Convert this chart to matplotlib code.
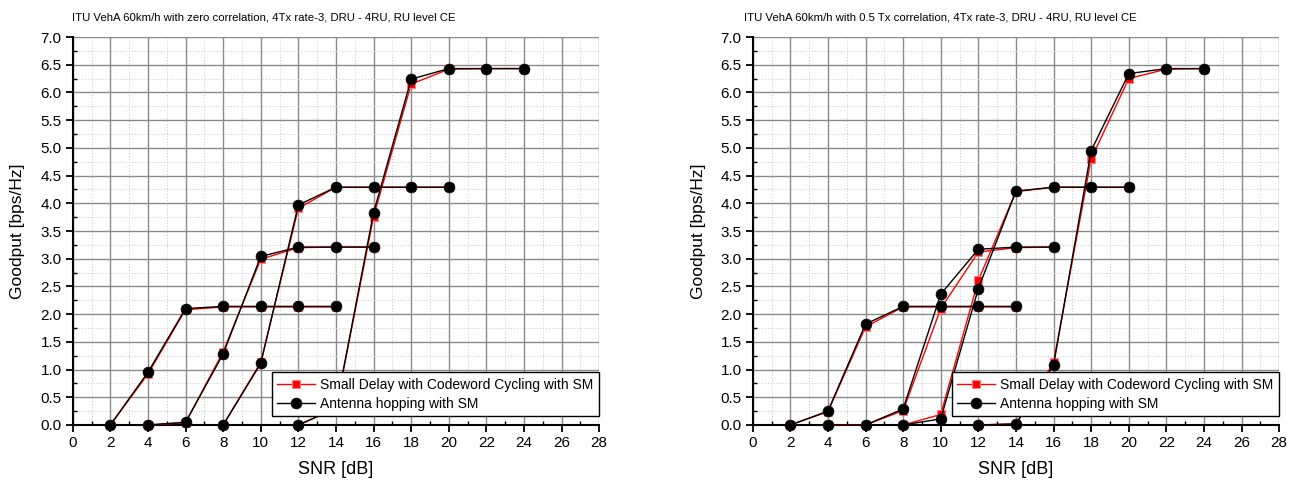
import matplotlib
matplotlib.use("Agg")
import matplotlib.pyplot as plt
from matplotlib.ticker import MultipleLocator, FormatStrFormatter

plt.rcParams['font.family'] = ['Liberation Sans', 'DejaVu Sans']

# ---------------- data ----------------
titles = ["ITU VehA 60km/h with zero correlation, 4Tx rate-3, DRU - 4RU, RU level CE",
          "ITU VehA 60km/h with 0.5 Tx correlation, 4Tx rate-3, DRU - 4RU, RU level CE"]
series_names = ["Small Delay with Codeword Cycling with SM", "Antenna hopping with SM"]
xlabel = "SNR [dB]"
ylabel = "Goodput [bps/Hz]"

snr_a = [2, 4, 6, 8, 10, 12, 14]
snr_b = [4, 6, 8, 10, 12, 14, 16]
snr_c = [8, 10, 12, 14, 16, 18, 20]
snr_d = [12, 14, 16, 18, 20, 22, 24]

# left panel (zero correlation)
l_sd_a = [0.0, 0.92, 2.08, 2.13, 2.13, 2.13, 2.13]
l_ah_a = [0.0, 0.95, 2.10, 2.14, 2.14, 2.14, 2.14]
l_sd_b = [0.0, 0.04, 1.32, 2.99, 3.20, 3.21, 3.21]
l_ah_b = [0.0, 0.05, 1.28, 3.04, 3.21, 3.21, 3.21]
l_sd_c = [0.0, 1.13, 3.91, 4.29, 4.29, 4.29, 4.29]
l_ah_c = [0.0, 1.11, 3.97, 4.29, 4.29, 4.29, 4.29]
l_sd_d = [0.0, 0.30, 3.76, 6.15, 6.42, 6.43, 6.43]
l_ah_d = [0.0, 0.30, 3.83, 6.24, 6.43, 6.43, 6.43]

# right panel (0.5 Tx correlation)
r_sd_a = [0.0, 0.24, 1.77, 2.13, 2.13, 2.13, 2.13]
r_ah_a = [0.0, 0.25, 1.82, 2.14, 2.14, 2.14, 2.14]
r_sd_b = [0.0, 0.0, 0.26, 2.10, 3.12, 3.20, 3.21]
r_ah_b = [0.0, 0.0, 0.29, 2.36, 3.17, 3.21, 3.21]
r_sd_c = [0.0, 0.19, 2.61, 4.21, 4.29, 4.29, 4.29]
r_ah_c = [0.0, 0.11, 2.46, 4.22, 4.29, 4.29, 4.29]
r_sd_d = [0.0, 0.02, 1.13, 4.80, 6.25, 6.42, 6.43]
r_ah_d = [0.0, 0.02, 1.08, 4.95, 6.34, 6.43, 6.43]

panels = [
    [(snr_a, l_sd_a, l_ah_a), (snr_b, l_sd_b, l_ah_b), (snr_c, l_sd_c, l_ah_c), (snr_d, l_sd_d, l_ah_d)],
    [(snr_a, r_sd_a, r_ah_a), (snr_b, r_sd_b, r_ah_b), (snr_c, r_sd_c, r_ah_c), (snr_d, r_sd_d, r_ah_d)],
]

# ---------------- figure ----------------
W, H = 1293, 484
fig = plt.figure(figsize=(W / 100, H / 100), dpi=100)

ax_lefts = [72.7, 752.7]
ax_w = 526.5
ax_bottom = 425.0
ax_top = 37.0
title_cx = [264.0, 940.0]
ylabel_x = [25.0, 706.0]

for i, curves in enumerate(panels):
    ax = fig.add_axes([ax_lefts[i] / W, (H - ax_bottom) / H, ax_w / W, (ax_bottom - ax_top) / H])
    ax.set_xlim(0, 28)
    ax.set_ylim(0, 7.0)
    ax.xaxis.set_major_locator(MultipleLocator(2))
    ax.xaxis.set_minor_locator(MultipleLocator(1))
    ax.yaxis.set_major_locator(MultipleLocator(0.5))
    ax.yaxis.set_minor_locator(MultipleLocator(0.25))
    ax.yaxis.set_major_formatter(FormatStrFormatter('%.1f'))
    ax.grid(True, which='major', color='#8a8a8a', linewidth=1.0, linestyle='-')
    ax.grid(True, which='minor', color='#c8c8c8', linewidth=0.7, linestyle=(0, (1, 2)))
    ax.set_axisbelow(True)
    for s in ['top', 'right']:
        ax.spines[s].set_visible(False)
    for s in ['left', 'bottom']:
        ax.spines[s].set_linewidth(1.5)
    ax.tick_params(which='major', direction='out', length=5, width=1.3, labelsize=11, pad=3)
    ax.tick_params(which='minor', direction='in', length=3, width=1.0)

    for j, (xs, sd, ah) in enumerate(curves):
        ax.plot(xs, sd, color='red', linewidth=1.0, marker='s', markersize=6,
                markerfacecolor='red', markeredgecolor='#ff8080', markeredgewidth=0.8,
                label=series_names[0] if j == 0 else None, zorder=3, clip_on=False)
        ax.plot(xs, ah, color='black', linewidth=1.0, marker='o', markersize=7.8,
                markerfacecolor='black', markeredgecolor='black', markeredgewidth=0.5,
                label=series_names[1] if j == 0 else None, zorder=4, clip_on=False)

    ax.set_xlabel(xlabel, fontsize=13, labelpad=8)
    ax.set_ylabel(ylabel, fontsize=12.5)
    ax.yaxis.set_label_coords((ylabel_x[i] - ax_lefts[i]) / ax_w, 0.5)
    fig.text(title_cx[i] / W, 1 - 17.0 / H, titles[i], ha='center', va='center', fontsize=8.2)

    leg = ax.legend(loc='lower right', bbox_to_anchor=(1.0, 0.022), fontsize=10,
                    frameon=True, fancybox=False, framealpha=1.0, edgecolor='black',
                    borderpad=0.4, handlelength=2.7, handletextpad=0.4, labelspacing=0.35,
                    borderaxespad=0.0)
    leg.get_frame().set_linewidth(1.0)
    leg.set_zorder(10)

fig.savefig("out.png", dpi=100)
